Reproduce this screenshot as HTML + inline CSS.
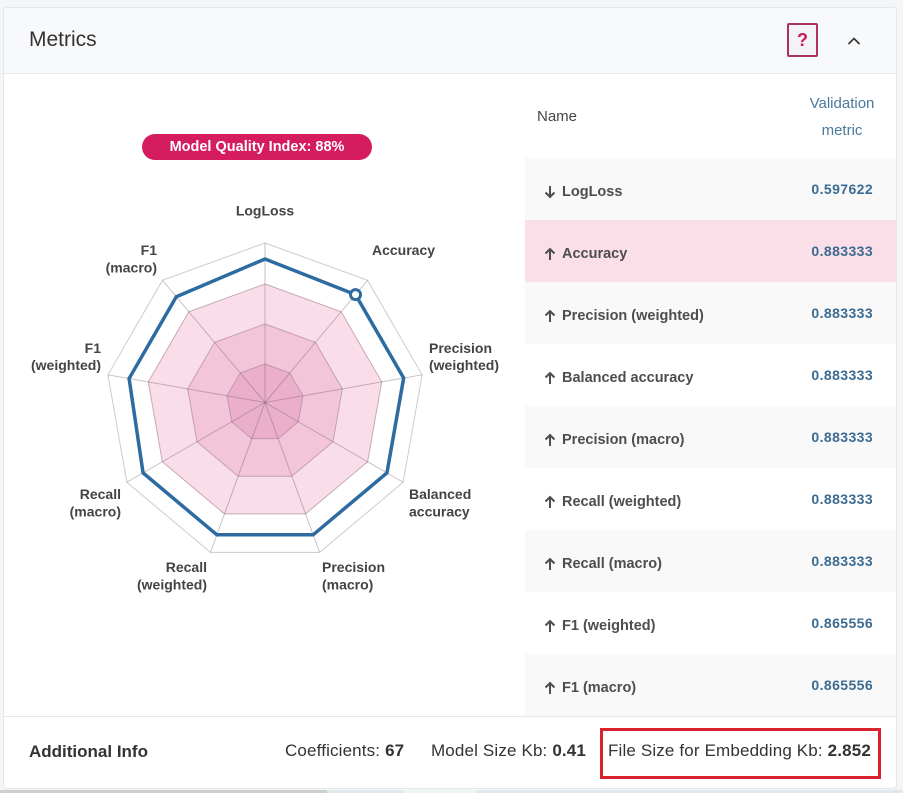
<!DOCTYPE html>
<html><head><meta charset="utf-8"><style>
*{margin:0;padding:0;box-sizing:border-box}
html,body{width:903px;height:793px;overflow:hidden;background:#f4f5f7;font-family:"Liberation Sans",Arial,sans-serif}
.abs{position:absolute}
#card{position:absolute;left:3px;top:7px;width:894px;height:782px;background:#fff;border:1px solid #e4e6ea;border-radius:4px}
#hdr{position:absolute;left:4px;top:8px;width:892px;height:66px;background:#f8f9fb;border-bottom:1px solid #e6e8ec}
.row{position:absolute;left:525px;width:371px;height:62px}
.nm{position:absolute;left:37px;top:26px;font-weight:bold;font-size:14.5px;color:#4d4d4d;white-space:nowrap}
.ic{position:absolute;left:18px;top:27px}
.val{position:absolute;right:23px;top:23px;font-weight:bold;font-size:14px;color:#3b6b91;letter-spacing:0.4px}
.ft{position:absolute;top:741px;font-size:17px;color:#333;white-space:nowrap;letter-spacing:0.15px}
</style></head><body>
<div id="card"></div>
<div id="hdr"></div>
<div class="abs" style="left:29px;top:28px;font-size:21px;color:#333">Metrics</div>
<div class="abs" style="left:787px;top:23px;width:31px;height:34px;border:2px solid #a9325f;border-radius:2px;background:#f3f3f7;color:#c8185c;font-weight:bold;font-size:18px;text-align:center;line-height:30px">?</div>
<svg class="abs" style="left:0;top:0" width="903" height="793">
<polyline points="848.5,44 854,38.5 859.5,44" fill="none" stroke="#333" stroke-width="1.6"/>
</svg>

<!-- badge -->
<div class="abs" style="left:142px;top:134px;width:230px;height:26px;border-radius:13px;background:#d51c5e;color:#fff;font-weight:bold;font-size:14.5px;text-align:center;line-height:26px">Model Quality Index: 88%</div>

<!-- radar -->
<svg class="abs" style="left:0;top:0" width="520" height="620">
<g transform="translate(265,402.5)">
<polygon points="0,-159.5 102.53,-122.18 157.08,-27.69 138.13,79.75 54.55,149.88 -54.55,149.88 -138.13,79.75 -157.08,-27.69 -102.53,-122.18" fill="#fff" stroke="#cccccc" stroke-width="1"/>
<polygon points="0,-118.5 76.17,-90.77 116.70,-20.57 102.62,59.25 40.53,111.35 -40.53,111.35 -102.62,59.25 -116.70,-20.57 -76.17,-90.77" fill="#f9dde8" stroke="#c6a9b7" stroke-width="1"/>
<polygon points="0,-78.5 50.46,-60.13 77.31,-13.63 67.98,39.25 26.85,73.77 -26.85,73.77 -67.98,39.25 -77.31,-13.63 -50.46,-60.13" fill="#f2c5d8" stroke="#c49fb1" stroke-width="1"/>
<polygon points="0,-38.5 24.75,-29.49 37.91,-6.68 33.34,19.25 13.17,36.18 -13.17,36.18 -33.34,19.25 -37.91,-6.68 -24.75,-29.49" fill="#ebaecb" stroke="#c296ab" stroke-width="1"/>
<g stroke="rgba(110,95,105,0.38)" stroke-width="1">
<line x1="0" y1="0" x2="0" y2="-159.5"/>
<line x1="0" y1="0" x2="102.53" y2="-122.18"/>
<line x1="0" y1="0" x2="157.08" y2="-27.69"/>
<line x1="0" y1="0" x2="138.13" y2="79.75"/>
<line x1="0" y1="0" x2="54.55" y2="149.88"/>
<line x1="0" y1="0" x2="-54.55" y2="149.88"/>
<line x1="0" y1="0" x2="-138.13" y2="79.75"/>
<line x1="0" y1="0" x2="-157.08" y2="-27.69"/>
<line x1="0" y1="0" x2="-102.53" y2="-122.18"/>
</g>
<polygon points="0,-143.5 90.51,-107.85 138.66,-24.44 121.93,70.4 48.15,132.31 -48.15,132.31 -121.93,70.4 -135.9,-23.96 -88.71,-105.71" fill="none" stroke="#2d6ba1" stroke-width="3.5" stroke-linejoin="miter"/>
<circle cx="90.51" cy="-107.85" r="5" fill="#fff" stroke="#2d6ba1" stroke-width="3"/>
</g>
<g font-family="Liberation Sans, Arial, sans-serif" font-weight="bold" font-size="14" fill="#444">
<text x="265" y="215.5" text-anchor="middle">LogLoss</text>
<text x="372" y="255">Accuracy</text>
<text x="157" y="255" text-anchor="end">F1</text>
<text x="157" y="272.5" text-anchor="end">(macro)</text>
<text x="429" y="353">Precision</text>
<text x="429" y="370">(weighted)</text>
<text x="101" y="353" text-anchor="end">F1</text>
<text x="101" y="370" text-anchor="end">(weighted)</text>
<text x="409" y="499">Balanced</text>
<text x="409" y="516.5">accuracy</text>
<text x="121" y="499" text-anchor="end">Recall</text>
<text x="121" y="516.5" text-anchor="end">(macro)</text>
<text x="322" y="572">Precision</text>
<text x="322" y="589.5">(macro)</text>
<text x="207" y="572" text-anchor="end">Recall</text>
<text x="207" y="589.5" text-anchor="end">(weighted)</text>
</g>
</svg>

<!-- table header -->
<div class="abs" style="left:537px;top:108px;font-size:15px;color:#444">Name</div>
<div class="abs" style="left:792px;top:90px;width:100px;text-align:center;font-size:15px;color:#4a7a9c;line-height:27px">Validation<br>metric</div>

<!-- rows -->
<div class="row" style="top:158px;background:#f9f9fa"><svg class="ic" width="14" height="14"><path d="M7,1 V12 M2.5,7.5 L7,12 L11.5,7.5" fill="none" stroke="#4d4d4d" stroke-width="2"/></svg><div class="nm">LogLoss</div><div class="val">0.597622</div></div>
<div class="row" style="top:220px;background:#fadfe9"><svg class="ic" width="14" height="14"><path d="M7,13 V2 M2.5,6.5 L7,2 L11.5,6.5" fill="none" stroke="#4d4d4d" stroke-width="2"/></svg><div class="nm">Accuracy</div><div class="val">0.883333</div></div>
<div class="row" style="top:282px;background:#f9f9fa"><svg class="ic" width="14" height="14"><path d="M7,13 V2 M2.5,6.5 L7,2 L11.5,6.5" fill="none" stroke="#4d4d4d" stroke-width="2"/></svg><div class="nm">Precision (weighted)</div><div class="val">0.883333</div></div>
<div class="row" style="top:344px;background:#fff"><svg class="ic" width="14" height="14"><path d="M7,13 V2 M2.5,6.5 L7,2 L11.5,6.5" fill="none" stroke="#4d4d4d" stroke-width="2"/></svg><div class="nm">Balanced accuracy</div><div class="val">0.883333</div></div>
<div class="row" style="top:406px;background:#f9f9fa"><svg class="ic" width="14" height="14"><path d="M7,13 V2 M2.5,6.5 L7,2 L11.5,6.5" fill="none" stroke="#4d4d4d" stroke-width="2"/></svg><div class="nm">Precision (macro)</div><div class="val">0.883333</div></div>
<div class="row" style="top:468px;background:#fff"><svg class="ic" width="14" height="14"><path d="M7,13 V2 M2.5,6.5 L7,2 L11.5,6.5" fill="none" stroke="#4d4d4d" stroke-width="2"/></svg><div class="nm">Recall (weighted)</div><div class="val">0.883333</div></div>
<div class="row" style="top:530px;background:#f9f9fa"><svg class="ic" width="14" height="14"><path d="M7,13 V2 M2.5,6.5 L7,2 L11.5,6.5" fill="none" stroke="#4d4d4d" stroke-width="2"/></svg><div class="nm">Recall (macro)</div><div class="val">0.883333</div></div>
<div class="row" style="top:592px;background:#fff"><svg class="ic" width="14" height="14"><path d="M7,13 V2 M2.5,6.5 L7,2 L11.5,6.5" fill="none" stroke="#4d4d4d" stroke-width="2"/></svg><div class="nm">F1 (weighted)</div><div class="val">0.865556</div></div>
<div class="row" style="top:654px;background:#f9f9fa"><svg class="ic" width="14" height="14"><path d="M7,13 V2 M2.5,6.5 L7,2 L11.5,6.5" fill="none" stroke="#4d4d4d" stroke-width="2"/></svg><div class="nm">F1 (macro)</div><div class="val">0.865556</div></div>

<!-- footer -->
<div class="abs" style="left:4px;top:716px;width:892px;height:1px;background:#e6e8ec"></div>
<div class="abs" style="left:29px;top:742px;font-size:17px;font-weight:bold;color:#333">Additional Info</div>
<div class="ft" style="left:285px">Coefficients: <b>67</b></div>
<div class="ft" style="left:431px">Model Size Kb: <b>0.41</b></div>
<div class="ft" style="left:608px">File Size for Embedding Kb: <b>2.852</b></div>
<div class="abs" style="left:600px;top:728px;width:281px;height:51px;border:3px solid #d9232d"></div>

<!-- bottom strip -->
<div class="abs" style="left:0;top:790px;width:903px;height:3px;background:#dfe8ea"></div>
<div class="abs" style="left:0;top:790px;width:327px;height:3px;background:#cfcfcf"></div>
<div class="abs" style="left:403px;top:790px;width:74px;height:3px;background:#eef3f4"></div>
</body></html>
